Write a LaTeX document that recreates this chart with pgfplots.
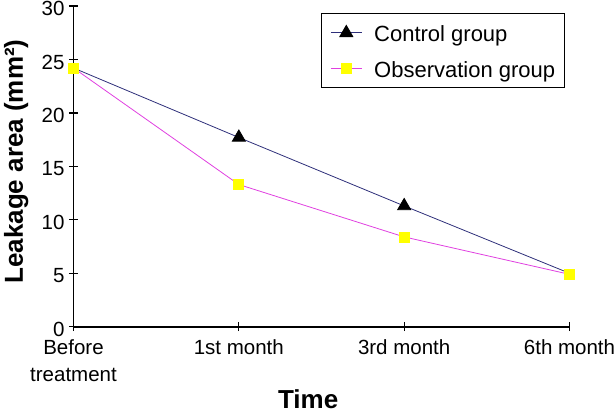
\documentclass[border=0pt]{standalone}
\usepackage{pgfplots}
\pgfplotsset{compat=1.18}
\usepackage{fontspec}
\setmainfont{Liberation Sans}
\definecolor{ctrl}{HTML}{2E2F7A}
\definecolor{obs}{HTML}{E040E0}
\definecolor{ylw}{HTML}{FFFF00}
\begin{document}
\begin{tikzpicture}
\useasboundingbox (-73.5pt,-86.3pt) rectangle (540.5pt,326.7pt);
\begin{axis}[
  at={(0pt,0pt)}, anchor=south west,
  scale only axis,
  width=496pt, height=320.7pt,
  xmin=0, xmax=3, ymin=0, ymax=30,
  axis lines=left,
  axis line style={line width=1.6pt, -},
  every tick/.style={black, line width=1.2pt},
  major tick length=9pt,
  xtick={0,1,2,3},
  xticklabels={Before\\treatment,1st month,3rd month,6th month},
  xticklabel style={align=center, font=\fontsize{20.5}{27}\selectfont, yshift=-5pt},
  ytick={0,5,...,30},
  yticklabel style={font=\fontsize{20.5}{24}\selectfont, xshift=-1pt, yshift=-2.5pt},
  /pgf/number format/assume math mode=true,
  xlabel={\bfseries Time},
  ylabel={\bfseries Leakage area (mm²)},
  xlabel style={font=\fontsize{26}{28}\selectfont, at={(axis description cs:0.473,-0.255)}, anchor=base, inner sep=0pt},
  ylabel style={font=\fontsize{26}{28}\selectfont, at={(axis description cs:-0.102,0.515)}, anchor=base, inner sep=0pt},
  legend style={at={(0.499,0.978)}, anchor=north west, draw=black, line width=0.8pt,
    font=\fontsize{22}{26}\selectfont, inner xsep=9pt, inner ysep=5pt,
    row sep=6.6pt, column sep=12pt,
    nodes={inner sep=0pt, text height=23.5pt, text depth=5.3pt}},
  legend image code/.code={
    \draw[#1, mark=none] (0pt,0pt) -- (31pt,0pt);
    \draw[#1, mark indices={1}] plot coordinates {(15.5pt,0pt)};},
  legend cell align=left,
  clip=false,
]
\addplot[ctrl, line width=0.8pt, mark=triangle*, mark size=7.5pt, mark indices={2,3},
  mark options={fill=black, draw=black, solid}]
  coordinates {(0,24.2) (1,17.7) (2,11.3) (3,5.0)};
\addlegendentry{Control group}
\addplot[obs, line width=0.8pt, mark=square*, mark size=5pt,
  mark options={fill=ylw, draw=ylw, solid}]
  coordinates {(0,24.2) (1,13.3) (2,8.4) (3,4.9)};
\addlegendentry{Observation group}
\end{axis}
\end{tikzpicture}
\end{document}
